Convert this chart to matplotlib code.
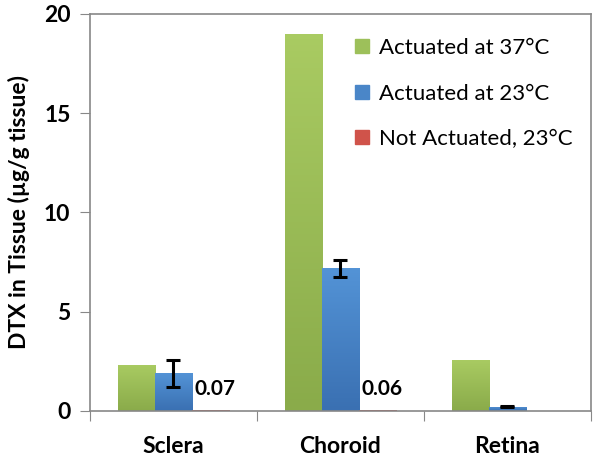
import numpy as np
import matplotlib
matplotlib.use("Agg")
import matplotlib.pyplot as plt
from matplotlib.patches import Patch
from matplotlib.colors import LinearSegmentedColormap

# データ
categories = ["Sclera", "Choroid", "Retina"]
series_names = ["Actuated at 37°C", "Actuated at 23°C", "Not Actuated, 23°C"]
act37 = [2.32, 19.0, 2.57]
act23 = [1.9, 7.2, 0.22]
act23_err = [0.68, 0.43, 0.03]
not_act = [0.07, 0.06, 0.0]
value_labels = ["0.07", "0.06", ""]
y_ticks = [0, 5, 10, 15, 20]

colors = ["#9dc05a", "#4a86c8", "#d0534a"]
# 上が明るく下が暗いグラデーション
grads = [("#a9cb62", "#8aab4a"), ("#5393d6", "#3a70b2"), ("#d85a50", "#b8443c")]
plt.rcParams["font.family"] = ["Lato", "DejaVu Sans"]

fig = plt.figure(figsize=(6.02, 4.62), dpi=100)
ax = fig.add_axes([0.1495, 0.1104, 0.8322, 0.8593])
ax.set_xlim(-0.5, 2.5)
ax.set_ylim(0, 20)

x = np.arange(len(categories))
w = 0.223
groups = []
for off, vals, c, name in zip([-w, 0, w], [act37, act23, not_act], colors, series_names):
    groups.append(ax.bar(x + off, vals, w, color=c, label=name))


def shade(bars, top, bottom):
    cmap = LinearSegmentedColormap.from_list("g", [bottom, top])
    grad = np.linspace(0, 1, 64).reshape(-1, 1)
    for b in bars:
        x0, y0 = b.get_x(), b.get_y()
        h = b.get_height()
        if h <= 0:
            continue
        im = ax.imshow(grad, extent=[x0, x0 + b.get_width(), y0, y0 + h],
                       origin="lower", aspect="auto", cmap=cmap, zorder=b.get_zorder())
        im.set_clip_path(b)
        b.set_facecolor("none")


for bars, (t, bt) in zip(groups, grads):
    shade(bars, t, bt)

ax.errorbar(x, act23, yerr=act23_err, fmt="none", ecolor="black",
            elinewidth=2.2, capsize=5, capthick=2.2, zorder=3)

for xi, txt in zip(x + w, value_labels):
    if txt:
        ax.annotate(txt, (xi, 1.1), xytext=(3, 0), textcoords="offset points",
                    ha="center", va="center", fontsize=15, fontweight="bold")

ax.set_xlim(-0.5, 2.5)
ax.set_ylim(0, 20)
ax.set_yticks(y_ticks)
ax.set_xticks([-0.5, 0.5, 1.5, 2.5], minor=False)
ax.set_xticklabels([])
ax.set_xticks(x, minor=True)
ax.set_xticklabels(categories, minor=True)
ax.tick_params(axis="x", which="minor", length=0, pad=18, labelsize=16.5)
ax.tick_params(axis="x", which="major", length=7, color="#888888", direction="out")
ax.tick_params(axis="y", length=7, color="#888888", labelsize=16.5, pad=7)
for lab in ax.get_xticklabels(minor=True) + ax.get_yticklabels():
    lab.set_fontweight("bold")
for s in ax.spines.values():
    s.set_color("#888888")
    s.set_linewidth(1.2)

ax.set_ylabel("DTX in Tissue (µg/g tissue)", fontsize=16.5, fontweight="bold", labelpad=10)

handles = [Patch(color=c) for c in colors]
ax.legend(handles, series_names, loc="upper left", bbox_to_anchor=(0.49, 0.99),
          frameon=False, fontsize=16, handlelength=0.6, handleheight=0.6,
          handletextpad=0.45, labelspacing=1.15)

plt.savefig("out.png", dpi=100)
